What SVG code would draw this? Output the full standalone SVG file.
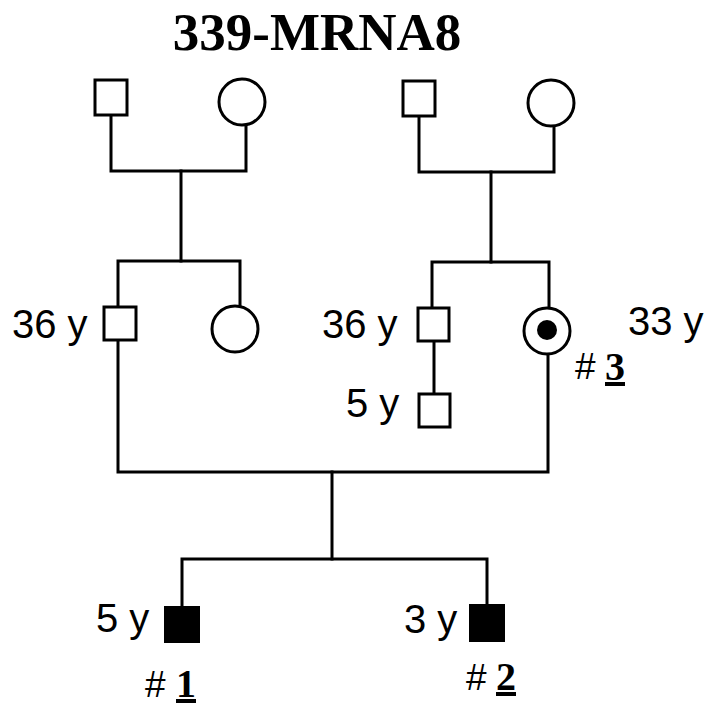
<svg xmlns="http://www.w3.org/2000/svg" width="709" height="706" viewBox="0 0 709 706">
<style>
.ln{stroke:#000;stroke-width:3;fill:none;stroke-linecap:square}
.nd{stroke:#000;stroke-width:3;fill:#fff}
.aff{stroke:#000;stroke-width:2;fill:#000}
.lb{font-family:"Liberation Sans",Arial,sans-serif;font-size:40px;fill:#000}
.hs{font-family:"Liberation Sans",Arial,sans-serif;font-size:37px;fill:#000}
.nm{font-family:"Liberation Serif","Times New Roman",serif;font-size:40px;font-weight:bold;fill:#000;text-decoration:underline}
.tt{font-family:"Liberation Serif","Times New Roman",serif;font-size:53px;font-weight:bold;fill:#000}
</style>
<rect width="709" height="706" fill="#fff"/>
<text class="tt" x="317" y="50" text-anchor="middle">339-MRNA8</text>
<g id="connectors">
<path class="ln" d="M111,115 V171 H246 V126"/>
<path class="ln" d="M181,171 V261"/>
<path class="ln" d="M419,117 V172 H554 V127"/>
<path class="ln" d="M491,172 V262"/>
<path class="ln" d="M118,307 V261 H240 V305"/>
<path class="ln" d="M432,307 V262 H549 V306"/>
<path class="ln" d="M434,341 V393"/>
<path class="ln" d="M118,340 V472 H548 V355"/>
<path class="ln" d="M332,472 V559"/>
<path class="ln" d="M182,606 V559 H487 V604"/>
</g>
<g id="gf1"><rect class="nd" x="95" y="80" width="32" height="35"/></g>
<g id="gm1"><circle class="nd" cx="242" cy="102" r="23"/></g>
<g id="gf2"><rect class="nd" x="403" y="81" width="32" height="35"/></g>
<g id="gm2"><circle class="nd" cx="551" cy="103" r="23"/></g>
<g id="father"><rect class="nd" x="104" y="307" width="32" height="33"/><text class="lb" x="12" y="338">36 y</text></g>
<g id="aunt"><circle class="nd" cx="235" cy="329" r="23"/></g>
<g id="uncle"><rect class="nd" x="418" y="308" width="31" height="33"/><text class="lb" x="322" y="338">36 y</text></g>
<g id="cousin"><rect class="nd" x="419" y="394" width="31" height="33"/><text class="lb" x="346" y="417">5 y</text></g>
<g id="mother"><circle class="nd" cx="547" cy="331" r="23"/><circle cx="547" cy="330" r="10" fill="#000"/><text class="lb" x="628" y="335">33 y</text><text class="hs" x="575" y="379">#</text><text class="nm" x="605" y="380">3</text></g>
<g id="p1"><rect class="aff" x="165" y="607" width="34" height="35"/><text class="lb" x="96" y="632">5 y</text><text class="hs" x="145" y="697">#</text><text class="nm" x="176" y="697">1</text></g>
<g id="p2"><rect class="aff" x="470" y="605" width="34" height="36"/><text class="lb" x="404" y="633">3 y</text><text class="hs" x="466" y="690">#</text><text class="nm" x="496" y="690">2</text></g>
</svg>
